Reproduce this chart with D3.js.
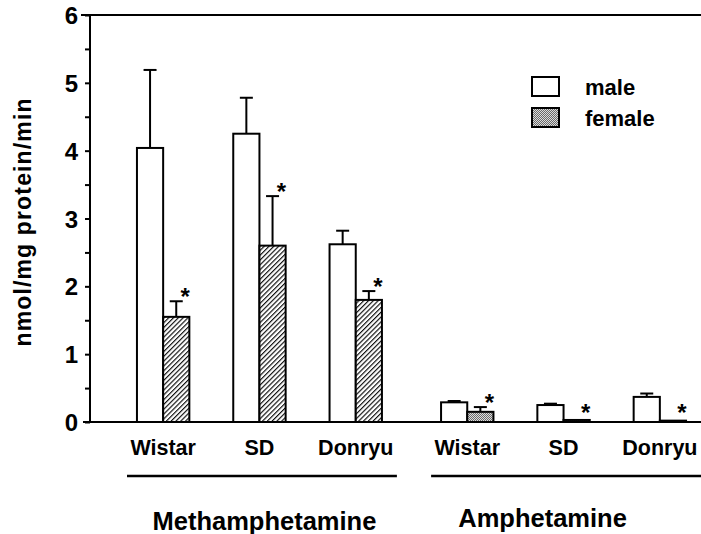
<!DOCTYPE html>
<html>
<head>
<meta charset="utf-8">
<script src="https://cdn.jsdelivr.net/npm/d3@7"></script>
<style>
  body { margin: 0; background: #fff; }
  text { font-family: "Liberation Sans", Arial, sans-serif; font-weight: bold; fill: #000; }
</style>
</head>
<body>
<div id="chart"></div>
<script>
// data
const drugs = ["Methamphetamine", "Amphetamine"];
const strains = ["Wistar", "SD", "Donryu"];
const maleMean = [[4.04, 4.25, 2.62], [0.29, 0.25, 0.37]];
const maleSD = [[1.15, 0.53, 0.20], [0.02, 0.02, 0.05]];
const femaleMean = [[1.55, 2.60, 1.80], [0.15, 0.03, 0.02]];
const femaleSD = [[0.23, 0.73, 0.13], [0.07, 0, 0]];
const yTicks = [0, 1, 2, 3, 4, 5, 6];

// chart set up
const svgWidth = 701;
const svgHeight = 534;

const svg = d3.select("#chart")
  .append("svg")
  .attr("width", svgWidth)
  .attr("height", svgHeight);

const defs = svg.append("defs");

// hatch for the methamphetamine females
const hatch = defs.append("pattern")
  .attr("id", "hatch")
  .attr("patternUnits", "userSpaceOnUse")
  .attr("width", 3.4)
  .attr("height", 3.4)
  .attr("patternTransform", "rotate(45)");
hatch.append("rect").attr("width", 3.4).attr("height", 3.4).attr("fill", "#fff");
hatch.append("line")
  .attr("x1", 0.6).attr("y1", 0).attr("x2", 0.6).attr("y2", 3.4)
  .attr("stroke", "#000").attr("stroke-width", 1.1);

// stipple for the legend / amphetamine females
const dots = defs.append("pattern")
  .attr("id", "dots")
  .attr("patternUnits", "userSpaceOnUse")
  .attr("width", 2)
  .attr("height", 2);
dots.append("rect").attr("width", 2).attr("height", 2).attr("fill", "#dcdcdc");
dots.append("rect").attr("width", 1).attr("height", 1).attr("fill", "#6a6a6a");
dots.append("rect").attr("x", 1).attr("y", 1).attr("width", 1).attr("height", 1).attr("fill", "#6a6a6a");

// scales
const y = d3.scaleLinear().domain([0, 6]).range([422, 15]);

const xGroup = d3.scaleBand()
  .domain(drugs)
  .range([115, 708])
  .paddingInner(0.05);

const xStrain = d3.scaleBand()
  .domain(strains)
  .range([0, xGroup.bandwidth()]);

const barW = xStrain.step() * 0.272;

// flatten into rows for drawing
const rows = [];
drugs.forEach((drug, gi) => {
  strains.forEach((strain, si) => {
    const cx = xGroup(drug) + xStrain(strain) + xStrain.bandwidth() / 2;
    rows.push({ drug, strain, cx, sex: "male", mean: maleMean[gi][si], sd: maleSD[gi][si], x0: cx - barW, gi });
    rows.push({ drug, strain, cx, sex: "female", mean: femaleMean[gi][si], sd: femaleSD[gi][si], x0: cx, gi });
  });
});

function fillFor(d) {
  if (d.sex === "male") return "#fff";
  return d.gi === 0 ? "url(#hatch)" : "url(#dots)";
}

// bars
svg.append("g").selectAll("rect")
  .data(rows)
  .enter()
  .append("rect")
  .attr("x", d => d.x0)
  .attr("y", d => y(d.mean))
  .attr("width", barW)
  .attr("height", d => y(0) - y(d.mean))
  .attr("fill", fillFor)
  .attr("stroke", "#000")
  .attr("stroke-width", 2);

// error bars (upper only)
const errRows = rows.filter(d => d.sd > 0);
const err = svg.append("g").attr("stroke", "#000").attr("stroke-width", 2);
err.selectAll(".stem")
  .data(errRows)
  .enter()
  .append("line")
  .attr("x1", d => d.x0 + barW / 2)
  .attr("x2", d => d.x0 + barW / 2)
  .attr("y1", d => y(d.mean))
  .attr("y2", d => y(d.mean + d.sd));
err.selectAll(".cap")
  .data(errRows)
  .enter()
  .append("line")
  .attr("x1", d => d.x0 + barW / 2 - 6.5)
  .attr("x2", d => d.x0 + barW / 2 + 6.5)
  .attr("y1", d => y(d.mean + d.sd))
  .attr("y2", d => y(d.mean + d.sd));

// significance stars on the females
svg.append("g").selectAll("text")
  .data(rows.filter(d => d.sex === "female"))
  .enter()
  .append("text")
  .attr("x", d => d.x0 + barW / 2 + 9)
  .attr("y", d => Math.min(y(d.mean + d.sd) + 4, y(0) - 1))
  .attr("text-anchor", "middle")
  .style("font-size", "24px")
  .text("*");

// y axis with half-unit minor ticks
const leftAxis = d3.axisLeft(y)
  .tickValues(d3.range(0, 6.01, 0.5))
  .tickSize(5)
  .tickFormat(d => yTicks.includes(d) ? d : "");

const yAxis = svg.append("g")
  .attr("transform", "translate(90,0)")
  .call(leftAxis);
yAxis.select(".domain").remove();
yAxis.selectAll("line").attr("stroke-width", 2);
yAxis.selectAll("text")
  .attr("x", -12)
  .attr("dy", "0.36em")
  .style("font-size", "24px")
  .style("font-family", "'Liberation Sans', Arial, sans-serif");

svg.append("line")
  .attr("x1", 90).attr("x2", 90)
  .attr("y1", y(6)).attr("y2", y(0))
  .attr("stroke", "#000").attr("stroke-width", 2);

// top line and baseline running across
svg.append("line")
  .attr("x1", 81).attr("x2", svgWidth)
  .attr("y1", y(6)).attr("y2", y(6))
  .attr("stroke", "#000").attr("stroke-width", 2);
svg.append("line")
  .attr("x1", 83).attr("x2", svgWidth)
  .attr("y1", y(0)).attr("y2", y(0))
  .attr("stroke", "#000").attr("stroke-width", 2);

svg.append("text")
  .attr("transform", `translate(31, ${(97 + 348) / 2}) rotate(-90)`)
  .attr("text-anchor", "middle")
  .attr("textLength", 248)
  .attr("lengthAdjust", "spacing")
  .style("font-size", "23px")
  .text("nmol/mg protein/min");

// strain labels
svg.append("g").selectAll("text")
  .data(rows.filter(d => d.sex === "male"))
  .enter()
  .append("text")
  .attr("x", d => d.cx)
  .attr("y", 455)
  .attr("text-anchor", "middle")
  .style("font-size", "21.5px")
  .text(d => d.strain);

// group lines and titles
const titleShift = { Methamphetamine: 5, Amphetamine: -21 };
const titleY = { Methamphetamine: 530, Amphetamine: 527 };
drugs.forEach(drug => {
  const g0 = xGroup(drug);
  const g1 = g0 + xGroup.bandwidth();
  svg.append("line")
    .attr("x1", g0 + 12).attr("x2", g1 - 7)
    .attr("y1", 476).attr("y2", 476)
    .attr("stroke", "#000").attr("stroke-width", 2.5);
  svg.append("text")
    .attr("x", (g0 + g1) / 2 + titleShift[drug])
    .attr("y", titleY[drug])
    .attr("text-anchor", "middle")
    .style("font-size", "25.5px")
    .text(drug);
});

// legend
const legend = svg.append("g").attr("transform", "translate(532,77)");
const legendItems = [{ label: "male", fill: "#fff" }, { label: "female", fill: "url(#dots)" }];
legendItems.forEach((item, i) => {
  legend.append("rect")
    .attr("x", 0).attr("y", i * 31)
    .attr("width", 27).attr("height", 19)
    .attr("fill", item.fill)
    .attr("stroke", "#000").attr("stroke-width", 2);
  legend.append("text")
    .attr("x", 53).attr("y", i * 31 + 18)
    .style("font-size", "22px")
    .text(item.label);
});
</script>
</body>
</html>
